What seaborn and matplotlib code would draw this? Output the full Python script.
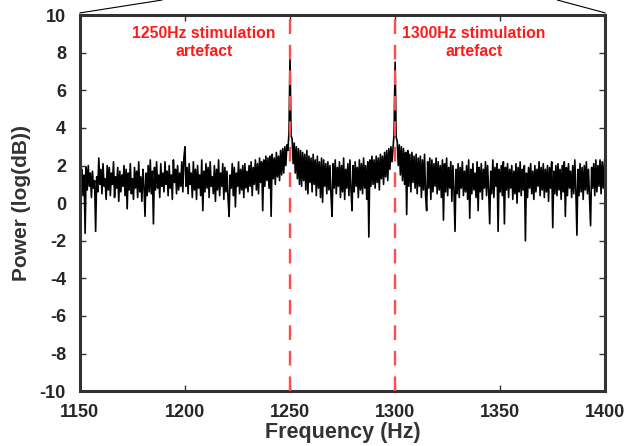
import numpy as np
import pandas as pd
import matplotlib
matplotlib.use('Agg')
import matplotlib.pyplot as plt
import seaborn as sns
from matplotlib.lines import Line2D

# spectrum, 0.5 Hz bins from 1150 to 1400 Hz
freq_start = 1150.0
freq_step = 0.5
power = [
    2.2, 0.6, 1.8, 0.4, 1.5, -1.6, 1.9, 0.7, 2.0, 0.9, 1.6, 0.3, 1.7, 0.8, 1.2, -1.5, 1.4, 0.6, 2.4, 1.0,
    1.8, 0.5, 2.1, 0.9, 1.3, 0.2, 2.0, 0.7, 1.9, 0.4, 1.6, 1.0, 2.2, 0.3, 1.4, 0.8, 1.9, 0.1, 1.7, 0.6,
    1.5, 0.9, 2.0, 0.4, 1.8, -0.3, 1.6, 0.7, 2.1, 0.5, 1.3, 0.2, 1.9, 0.8, 1.7, 0.3, 2.2, 0.6, 1.4, 0.1,
    1.8, 0.9, -0.7, 1.6, 0.4, 2.0, 0.6, 2.3, 0.5, 1.7, -1.1, 1.9, 0.7, 2.2, 0.8, 1.5, 0.3, 2.1, 0.9, 1.6,
    0.6, 2.2, 1.0, 1.7, 0.4, 2.0, 0.8, 1.5, 0.2, 2.3, 1.1, 1.8, 0.5, 2.0, 0.7, 1.6, 0.9, 2.2, 0.6, 2.4,
    3.0, 0.9, 1.9, 0.5, 2.1, 1.0, 1.6, 0.3, 2.2, 0.7, 1.8, 0.2, 2.0, 0.8, 1.5, 0.4, 2.3, -0.4, 1.7, 0.6,
    2.1, 0.8, 1.9, 0.3, 2.2, 0.9, 1.4, 0.5, 2.0, 0.1, 1.8, 0.7, 2.3, 0.4, 1.6, 0.9, 2.1, 0.2, 1.9, 0.6,
    1.7, 0.3, -0.7, 1.5, 0.8, 2.1, 0.4, 1.9, -0.2, 1.6, 0.9, 2.2, 0.5, 1.8, 0.7, 2.0, 0.3, 2.1, 0.8, 1.7,
    0.6, 2.0, 0.9, 2.2, 0.4, 1.9, 1.0, 2.3, 0.7, 2.1, 0.5, 2.4, 1.1, 2.2, -0.4, 2.3, 0.9, 2.5, 1.2, 2.4,
    0.8, 2.5, -0.7, 2.6, 1.3, 2.4, 1.0, 2.7, 1.4, 2.5, 1.2, 2.8, 1.5, 2.9, 1.6, 3.0, 2.0, 3.1, 2.8, 3.8,
    7.7, 3.6, 3.4, 2.1, 3.2, 1.6, 3.0, 1.3, 2.9, 1.0, 2.8, 0.9, 2.7, 1.2, 2.6, 0.7, 2.8, 0.5, 2.5, 1.1,
    2.4, 0.6, 2.6, 1.0, 2.3, 0.4, 2.5, 0.8, 2.2, 0.3, 2.4, 0.05, 2.3, 0.9, 2.1, 0.5, 2.2, 0.7, 2.0, 0.4,
    -0.7, 2.1, 0.8, 2.3, 0.5, 1.9, 0.9, 2.2, 0.3, 2.0, 0.6, 2.4, 0.2, 1.8, 0.8, 2.1, 0.4, 2.3, 0.7, -0.4,
    2.0, 0.6, 2.2, 0.9, 1.9, 0.3, 2.3, 0.7, 2.1, 0.5, 2.4, 0.8, 2.0, 0.2, 2.2, -1.8, 2.3, 0.9, 2.5, 1.0,
    2.3, 0.8, 2.5, 1.1, 2.4, 0.7, 2.6, 1.3, 2.5, 1.0, 2.7, 1.4, 2.8, 1.2, 2.9, 1.8, 3.0, 2.2, 2.9, 3.7,
    7.5, 3.5, 3.3, 2.0, 3.1, 1.5, 3.0, 1.2, 2.9, 1.0, 2.7, -0.6, 2.8, 0.9, 2.6, 0.6, 2.7, 1.1, 2.5, 0.8,
    2.6, 0.5, 2.4, 0.9, 2.5, 0.3, 2.3, 0.7, 2.6, 0.4, -0.4, 2.2, 0.8, 2.4, 0.2, 2.3, 0.6, 2.1, 0.9, 2.4,
    0.5, 2.2, 0.7, 2.0, 0.3, 2.3, -0.9, 2.1, 0.6, 2.4, 0.4, 1.9, 0.8, 2.2, 0.1, 2.0, 0.7, -1.5, 1.8, 0.5,
    2.1, 0.3, 1.9, 0.8, 2.2, 0.4, 1.7, 0.6, 2.0, 0.2, 2.3, -0.8, 1.8, 0.5, 2.1, 0.7, 1.6, 0.3, 2.2, -0.4,
    1.9, 0.6, 2.1, 0.2, 1.8, 0.8, 2.2, 0.4, 2.0, 0.7, -1.1, 1.7, 0.5, 2.3, 0.3, 1.9, 0.9, 2.1, -1.5, 1.8,
    0.6, 2.0, 0.4, 2.2, -1.1, 1.9, 0.7, 2.1, 0.3, 1.8, 0.8, 2.0, 0.2, 1.7, 0.5, 2.1, 0.0, 1.9, 0.6, 2.2,
    0.4, 1.8, 0.7, 2.0, -2.0, 1.6, 0.3, 1.9, 0.8, 2.1, 0.5, 1.7, 0.2, 2.0, 0.6, 1.8, 0.9, 2.2, 0.4, 1.9,
    0.7, 2.1, 0.3, 1.8, 0.6, 2.0, 0.1, 1.9, 0.8, 2.2, -1.3, 1.7, 0.5, 2.0, 0.4, 2.1, 0.7, 1.8, 0.2, 2.0,
    0.6, 2.2, -0.7, 1.9, 0.4, 2.1, 0.8, 1.7, 0.3, 2.0, 0.5, 2.3, 0.7, -1.7, 1.8, 0.4, 2.1, 0.6, 1.9, 0.2,
    2.0, 0.7, 2.2, 0.5, 1.8, 0.3, -1.2, 1.9, 0.8, 2.1, 0.4, 2.3, 0.6, 2.0, 0.9, 2.3, 0.5, 2.2, 0.8, 2.1,
    2.6,
]
freqs = freq_start + freq_step * np.arange(len(power))

artefacts = [1250, 1300]
artefact_labels = ['1250Hz stimulation\nartefact', '1300Hz stimulation\nartefact']
label_x = [1209, 1337.5]
label_y = 8.55

xticks = [1150, 1200, 1250, 1300, 1350, 1400]
yticks = list(range(-10, 11, 2))

df = pd.DataFrame({'Frequency': freqs, 'Power': power})

sns.set_style('ticks')
plt.rcParams['font.family'] = ['Liberation Sans', 'DejaVu Sans']
plt.rcParams['font.weight'] = 'bold'
plt.rcParams['axes.unicode_minus'] = False

fig = plt.figure(figsize=(6.24, 4.46), dpi=100)
ax = fig.add_axes([0.128, 0.123, 0.842, 0.843])

sns.lineplot(data=df, x='Frequency', y='Power', ax=ax, color='black', linewidth=1.2)

for f in artefacts:
    ax.axvline(f, color='#ff4d4d', linewidth=1.7, dashes=(6.2, 4.6), zorder=5)

for lx, txt in zip(label_x, artefact_labels):
    ax.text(lx, label_y, txt, color='#ff1a1a', fontsize=11.3, fontweight='bold',
            ha='center', va='center', linespacing=1.25)

ax.set_xlim(1150, 1400)
ax.set_ylim(-10, 10)
ax.set_xticks(xticks)
ax.set_yticks(yticks)
ax.tick_params(direction='in', length=4, width=1, top=True, right=True,
               labelsize=13, colors='#333333')
ax.tick_params(axis='x', pad=9)
ax.tick_params(axis='y', pad=10)
for lab in ax.get_xticklabels() + ax.get_yticklabels():
    lab.set_fontweight('bold')
    lab.set_color('#262626')
for sp in ax.spines.values():
    sp.set_linewidth(2.2)
    sp.set_color('#333333')
    sp.set_visible(True)

ax.set_xlabel('Frequency (Hz)', fontsize=15.5, fontweight='bold', color='#333333', labelpad=1)
ax.set_ylabel('Power (log(dB))', fontsize=15, fontweight='bold', color='#333333', labelpad=6)

# zoom connector lines from the parent panel
fig.add_artist(Line2D([0.128, 0.26], [0.971, 1.0], color='black', linewidth=0.8,
                      transform=fig.transFigure, clip_on=False))
fig.add_artist(Line2D([0.970, 0.893], [0.971, 1.0], color='black', linewidth=0.8,
                      transform=fig.transFigure, clip_on=False))

fig.savefig('out.png', dpi=100)
